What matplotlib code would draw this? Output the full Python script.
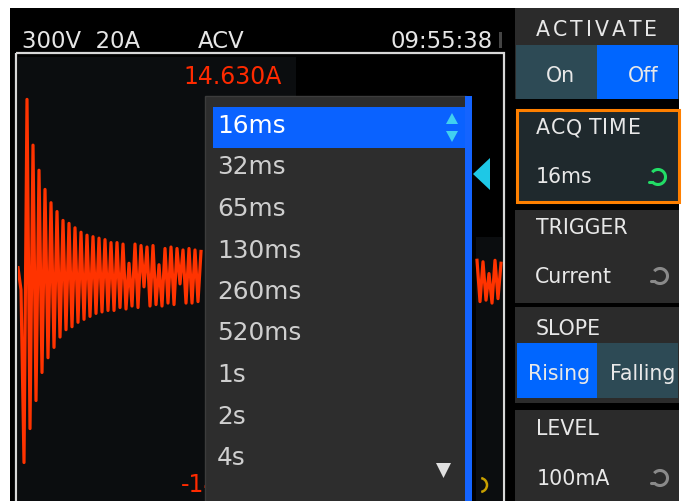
import matplotlib
matplotlib.use("Agg")
import matplotlib.pyplot as plt
from matplotlib.patches import Rectangle, Polygon, Arc

W, H = 682, 501

# texts shown on the instrument screen
status_labels = ["300V  20A", "ACV", "09:55:38"]
scale_top = "14.630A"
scale_bottom = "-14.630A"
acq_options = ["16ms", "32ms", "65ms", "130ms", "260ms", "520ms", "1s", "2s", "4s"]
selected_option = "16ms"
activate_choices = ["On", "Off"]
slope_choices = ["Rising", "Falling"]
acq_value = "16ms"
trigger_value = "Current"
level_value = "100mA"

# current samples (A); middle part is hidden by the menu
wave_left_start = 0
wave_left = [0.7, -0.8, -12.5, 12.1, -10.2, 9.0, -8.3, 7.3, -6.4, 6.0,
             -5.4, 5.1, -4.7, 4.5, -4.0, 3.9, -3.5, 3.7, -3.3, 3.4,
             -3.0, 3.1, -2.8, 2.9, -2.6, 2.8, -2.4, 2.7, -2.3, 2.6,
             -2.2, 2.4, -2.2, 2.4, -2.0, 2.3, -2.1, 1.0, -1.9, 2.3,
             -2.0, 2.2, -0.6, 2.1, -1.9, 2.2, -1.8, 0.9, -1.9, 2.0,
             -1.7, 2.1, -1.8, 2.0, -0.4, 1.9, -1.7, 2.0, -1.7, 1.9,
             -1.6, 1.8]
wave_right_start = 153
wave_right = [1.2, -1.6, 1.1, -1.5, 0.3, -1.7, 1.2, -1.4, 1.0]

PANEL_FS = 14.8
MENU_FS = 17.8
TOP_FS = 16.4


def rect(ax, x0, y0, x1, y1, color, **kw):
    ax.add_patch(Rectangle((x0, y0), x1 - x0, y1 - y0,
                           facecolor=color, edgecolor="none", **kw))


def pixel_axes(fig, z):
    ax = fig.add_axes([0, 0, 1, 1])
    ax.set_xlim(0, W)
    ax.set_ylim(H, 0)
    ax.axis("off")
    ax.patch.set_alpha(0)
    ax.set_zorder(z)
    return ax


def spaced_text(ax, x, y, s, size, gap, color):
    r = ax.figure.canvas.get_renderer()
    for ch in s:
        if ch == " ":
            x += 0.25 * size * 100 / 72
            continue
        t = ax.text(x, y, ch, fontsize=size, color=color, va="baseline")
        x += t.get_window_extent(r).width + gap


def knob(ax, cx, cy, color):
    ax.add_patch(Arc((cx, cy), 15, 15, theta1=220, theta2=140,
                     color=color, lw=2.2))
    ax.plot([cx - 5.7, cx - 9], [cy + 4.8, cy + 4.8], color=color, lw=2.2,
            solid_capstyle="round")


def main():
    fig = plt.figure(figsize=(W / 100, H / 100), dpi=100)
    fig.patch.set_facecolor("white")
    bg = pixel_axes(fig, 0)
    fg = pixel_axes(fig, 2)

    # screen and top status bar
    rect(bg, 10, 8, 679, H, "black")
    txt = dict(fontsize=TOP_FS, color="#e6e6e6", va="baseline")
    bg.text(22, 48, status_labels[0], **txt)
    bg.text(198, 48, status_labels[1], **txt)
    bg.text(390, 48, status_labels[2], **txt)
    rect(bg, 499, 32, 502, 48, "#444444")

    # plot area
    bg.add_patch(Rectangle((16, 53), 488, 470, facecolor="none",
                           edgecolor="#d8d8d8", lw=1.6))
    rect(bg, 18, 57, 502, H, "#0b0d0f")
    rect(bg, 296, 57, 502, 97, "black")
    rect(bg, 466, 97, 502, 237, "black")
    rect(bg, 472, 237, 476, H, "black")
    bg.text(183, 84, scale_top, fontsize=17, color="#ff2a00", va="baseline")
    bg.text(181, 492, scale_bottom, fontsize=17, color="#ff2a00",
            va="baseline")

    # waveform
    wave = fig.add_axes([18 / W, 0, 485 / W, (H - 57) / H])
    wave.set_zorder(1)
    wave.patch.set_alpha(0)
    wave.axis("off")
    wave.set_xlim(0, 485 / 3)
    wave.set_ylim((278 - H) / 14.76, (278 - 57) / 14.76)
    for start, vals in ((wave_left_start, wave_left),
                        (wave_right_start, wave_right)):
        xs = list(range(start, start + len(vals)))
        wave.plot(xs, vals, color="#ff3300", lw=2.3)

    # cyan trigger marker and hidden knob
    fg.add_patch(Polygon([(473, 174), (490, 158), (490, 190)],
                         closed=True, facecolor="#1ec8e6", edgecolor="none"))
    fg.add_patch(Arc((480, 485), 14, 14, theta1=-80, theta2=80,
                     color="#c8a000", lw=1.8))

    # drop-down menu
    fg.add_patch(Rectangle((205, 96), 261, 420, facecolor="#2d2d2d",
                           edgecolor="#3c3c3c", lw=1))
    rect(fg, 213, 107, 465, 148, "#0a62ff")
    rect(fg, 465, 96, 472, H, "#1464ff")
    for i, opt in enumerate(acq_options):
        col = "white" if opt == selected_option else "#cfcfcf"
        fg.text(217, 133 + 41.5 * i, opt, fontsize=MENU_FS, color=col,
                va="baseline")
    fg.add_patch(Polygon([(452, 113), (446, 124), (458, 124)],
                         facecolor="#40d0f0", edgecolor="none"))
    fg.add_patch(Polygon([(452, 142), (446, 131), (458, 131)],
                         facecolor="#40d0f0", edgecolor="none"))
    fg.add_patch(Polygon([(436, 463), (451, 463), (443.5, 478)],
                         facecolor="#e0e0e0", edgecolor="none"))

    # right-hand soft key panel
    pc = "#2b2b2b"
    teal = "#2d4a55"
    blue = "#0066ff"
    ptxt = dict(fontsize=PANEL_FS, color="#e8e8e8", va="baseline")

    rect(fg, 515, 8, 679, 99, pc)
    spaced_text(fg, 536, 35.5, "ACTIVATE", PANEL_FS, 3, "#e8e8e8")
    rect(fg, 516, 45, 597, 99, teal)
    rect(fg, 597, 45, 678, 99, blue)
    fg.text(546, 82, activate_choices[0], **ptxt)
    fg.text(628, 82, activate_choices[1], **ptxt)

    fg.add_patch(Rectangle((516.5, 109.5), 162, 92, facecolor="#1f292d",
                           edgecolor="#ff8000", lw=2.2))
    spaced_text(fg, 536, 134.5, "ACQ TIME", PANEL_FS, 1, "#e8e8e8")
    fg.text(536, 183, acq_value, **ptxt)
    knob(fg, 658, 177, "#22dd66")

    rect(fg, 515, 210, 679, 303, pc)
    fg.text(536, 233.5, "TRIGGER", **ptxt)
    fg.text(535, 283, trigger_value, **ptxt)
    knob(fg, 660, 276, "#8a8a8a")

    rect(fg, 515, 307, 679, 403, pc)
    fg.text(536, 335, "SLOPE", **ptxt)
    rect(fg, 517, 343, 597, 398, blue)
    rect(fg, 597, 343, 678, 398, teal)
    fg.text(528, 380.5, slope_choices[0], **ptxt)
    fg.text(610, 380.5, slope_choices[1], **ptxt)

    rect(fg, 515, 410, 679, H, pc)
    fg.text(536, 435, "LEVEL", **ptxt)
    fg.text(537, 485, level_value, **ptxt)
    knob(fg, 660, 478, "#8a8a8a")

    fig.savefig("out.png", dpi=100, facecolor=fig.get_facecolor())


if __name__ == "__main__":
    main()
